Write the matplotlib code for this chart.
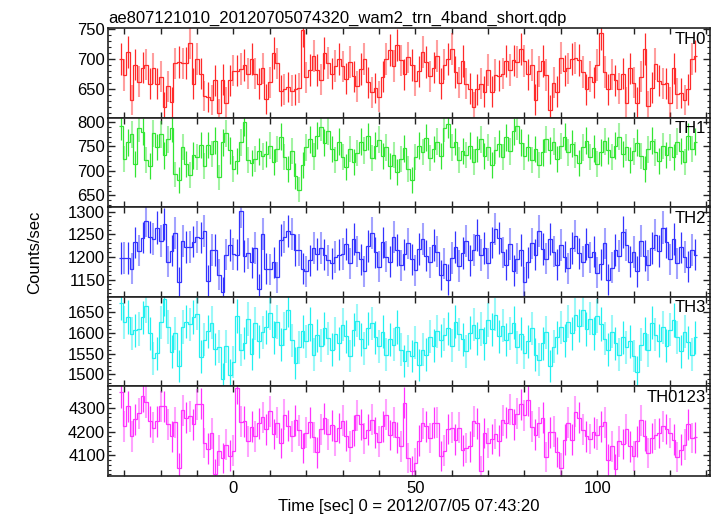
import numpy as np
import matplotlib
matplotlib.use("Agg")
import matplotlib.pyplot as plt
from matplotlib.ticker import MultipleLocator

plt.rcParams['font.family'] = ['Liberation Sans', 'DejaVu Sans']

# --- data: 1 s bins ---
t_start = -31

th0 = [700, 674, 712, 632, 691, 663, 686, 691, 659, 685,
       659, 671, 621, 655, 629, 693, 695, 693, 694, 727,
       659, 701, 676, 639, 637, 632, 665, 610, 666, 628,
       665, 681, 681, 684, 690, 676, 701, 676, 659, 685,
       634, 662, 711, 693, 648, 650, 654, 648, 650, 652,
       748, 670, 682, 706, 682, 666, 710, 694, 676, 689,
       701, 688, 668, 695, 672, 655, 684, 700, 662, 645,
       652, 638, 671, 700, 716, 689, 724, 698, 675, 703,
       690, 664, 680, 712, 695, 672, 686, 705, 660, 691,
       700, 717, 679, 661, 697, 659, 651, 621, 650, 659,
       646, 682, 646, 674, 673, 676, 697, 682, 698, 695,
       717, 697, 675, 690, 633, 680, 697, 674, 616, 661,
       646, 702, 681, 685, 700, 702, 699, 679, 650, 671,
       662, 690, 743, 679, 650, 675, 665, 651, 676, 628,
       685, 661, 628, 671, 717, 622, 653, 692, 664, 659,
       660, 628, 685, 643, 644, 632, 650, 701, 705]

th1 = [792, 725, 759, 775, 715, 787, 780, 722, 711, 777,
       749, 775, 732, 765, 787, 693, 682, 749, 715, 692,
       732, 729, 753, 711, 753, 735, 762, 687, 759, 777,
       742, 705, 720, 759, 799, 722, 717, 724, 740, 730,
       735, 752, 718, 745, 770, 728, 704, 741, 690, 662,
       712, 748, 765, 730, 772, 790, 758, 781, 745, 722,
       760, 728, 708, 745, 718, 737, 760, 742, 771, 726,
       752, 764, 731, 748, 711, 733, 698, 725, 746, 705,
       681, 728, 752, 739, 768, 726, 745, 760, 731, 787,
       795, 748, 760, 722, 741, 733, 752, 718, 745, 765,
       731, 748, 712, 742, 756, 728, 769, 740, 781, 792,
       758, 730, 748, 722, 745, 712, 738, 765, 742, 760,
       725, 751, 770, 738, 756, 733, 717, 748, 762, 729,
       746, 715, 738, 761, 742, 728, 752, 770, 735, 748,
       722, 740, 758, 731, 705, 744, 762, 738, 720, 751,
       733, 748, 729, 760, 741, 718, 771, 745, 760]

th2 = [1198, 1198, 1198, 1174, 1232, 1214, 1243, 1279, 1245, 1240,
       1265, 1236, 1273, 1190, 1214, 1252, 1145, 1236, 1222, 1222,
       1234, 1245, 1243, 1258, 1148, 1216, 1215, 1161, 1123, 1205,
       1226, 1207, 1205, 1301, 1202, 1208, 1188, 1220, 1129, 1250,
       1174, 1173, 1188, 1155, 1237, 1245, 1257, 1250, 1215, 1215,
       1174, 1168, 1193, 1220, 1207, 1220, 1205, 1193, 1186, 1200,
       1205, 1207, 1228, 1186, 1240, 1212, 1195, 1168, 1225, 1252,
       1210, 1178, 1232, 1201, 1190, 1245, 1216, 1182, 1206, 1230,
       1195, 1171, 1218, 1240, 1203, 1188, 1226, 1212, 1160, 1185,
       1150, 1198, 1222, 1180, 1209, 1236, 1193, 1215, 1248, 1204,
       1220, 1186, 1232, 1262, 1241, 1210, 1183, 1228, 1170, 1196,
       1215, 1145, 1188, 1230, 1205, 1258, 1218, 1196, 1240, 1212,
       1183, 1226, 1201, 1175, 1220, 1247, 1208, 1190, 1228, 1199,
       1212, 1165, 1184, 1230, 1150, 1176, 1215, 1202, 1255, 1226,
       1190, 1211, 1168, 1236, 1203, 1182, 1220, 1248, 1213, 1265,
       1232, 1195, 1240, 1186, 1221, 1200, 1178, 1216, 1205]

th3 = [1672, 1626, 1639, 1599, 1607, 1610, 1638, 1665, 1600, 1539,
       1551, 1626, 1682, 1615, 1555, 1600, 1520, 1615, 1628, 1621,
       1639, 1647, 1543, 1584, 1605, 1625, 1562, 1567, 1490, 1568,
       1498, 1530, 1641, 1559, 1576, 1634, 1550, 1624, 1580, 1602,
       1615, 1648, 1590, 1627, 1572, 1610, 1655, 1583, 1528, 1566,
       1604, 1580, 1622, 1548, 1595, 1570, 1612, 1588, 1560, 1598,
       1575, 1620, 1592, 1545, 1608, 1630, 1585, 1563, 1612, 1624,
       1590, 1568, 1603, 1548, 1585, 1572, 1615, 1560, 1532, 1557,
       1545, 1578, 1523, 1560, 1548, 1591, 1570, 1605, 1583, 1596,
       1612, 1570, 1628, 1597, 1585, 1556, 1601, 1620, 1588, 1610,
       1575, 1632, 1609, 1645, 1592, 1618, 1584, 1600, 1625, 1566,
       1598, 1553, 1580, 1612, 1548, 1536, 1575, 1602, 1520, 1567,
       1590, 1614, 1582, 1628, 1600, 1645, 1618, 1655, 1610, 1635,
       1598, 1642, 1622, 1586, 1560, 1603, 1575, 1548, 1590, 1566,
       1580, 1545, 1505, 1572, 1600, 1558, 1625, 1596, 1582, 1614,
       1570, 1608, 1632, 1590, 1556, 1603, 1578, 1548, 1590]

th0123 = [4366, 4222, 4307, 4180, 4251, 4276, 4349, 4324, 4244, 4216,
          4244, 4307, 4307, 4230, 4180, 4239, 4047, 4290, 4258, 4265,
          4230, 4314, 4318, 4152, 4128, 4192, 4023, 4120, 4089, 4145,
          4099, 4120, 4384, 4241, 4244, 4159, 4220, 4180, 4235, 4260,
          4210, 4285, 4190, 4238, 4152, 4270, 4225, 4180, 4248, 4205,
          4130, 4196, 4240, 4175, 4112, 4210, 4255, 4188, 4226, 4160,
          4215, 4245, 4182, 4136, 4205, 4268, 4230, 4172, 4208, 4250,
          4195, 4158, 4222, 4270, 4186, 4240, 4175, 4138, 4321, 4089,
          4033, 4068, 4162, 4234, 4223, 4173, 4237, 4237, 4096, 4120,
          4211, 4216, 4166, 4216, 4121, 4131, 4138, 4244, 4234, 4033,
          4194, 4152, 4169, 4190, 4162, 4248, 4237, 4293, 4230, 4275,
          4314, 4268, 4332, 4220, 4187, 4237, 4258, 4093, 4197, 4199,
          4113, 4047, 4166, 4237, 4166, 4283, 4258, 4208, 4180, 4169,
          4197, 4187, 4223, 4240, 4082, 4138, 4043, 4159, 4148, 4211,
          4138, 4096, 4159, 4248, 4183, 4110, 4173, 4187, 4194, 4223,
          4211, 4194, 4166, 4093, 4124, 4145, 4230, 4173, 4175]

labels = ['TH0', 'TH1', 'TH2', 'TH3', 'TH0123']
colors = ['#ff2a2a', '#33e633', '#3333ff', '#22f0f0', '#ff33ff']
ylims = [(603, 752), (626, 809), (1112, 1310), (1471, 1688), (4013, 4390)]
majors = [50, 50, 50, 50, 100]
minors = [10, 10, 10, 10, 20]
series = [th0, th1, th2, th3, th0123]

# --- figure ---
fig = plt.figure(figsize=(7.17, 5.16), dpi=100)
left, right, top, bottom = 108 / 717, 710 / 717, 1 - 28 / 516, 1 - 476 / 516
h = (top - bottom) / 5
fs = 12

for i, (vals, lab, col) in enumerate(zip(series, labels, colors)):
    ax = fig.add_axes([left, top - (i + 1) * h, right - left, h])
    vals = np.array(vals, dtype=float)
    t = t_start + np.arange(len(vals))
    err = np.sqrt(vals)
    edges = np.append(t - 0.5, t[-1] + 0.5)

    # alternate error bar shading like the qdp render
    even = np.arange(len(vals)) % 2 == 0
    ax.errorbar(t[even], vals[even], yerr=err[even], fmt='none',
                ecolor=col, elinewidth=0.9, capsize=0)
    ax.errorbar(t[~even], vals[~even], yerr=err[~even], fmt='none',
                ecolor=col, elinewidth=1.5, capsize=0, alpha=0.45)
    ax.stairs(vals, edges, color=col, linewidth=0.9, baseline=None)

    ax.set_xlim(-34.5, 131)
    ax.set_ylim(*ylims[i])
    ax.xaxis.set_major_locator(MultipleLocator(50))
    ax.xaxis.set_minor_locator(MultipleLocator(10))
    ax.yaxis.set_major_locator(MultipleLocator(majors[i]))
    ax.yaxis.set_minor_locator(MultipleLocator(minors[i]))
    ax.tick_params(which='both', direction='in', top=True, right=True,
                   labelsize=fs, color='#222222')
    ax.tick_params(axis='y', which='major', length=5, width=1, pad=2)
    ax.tick_params(axis='y', which='minor', length=2.5, width=0.8)
    ax.tick_params(axis='x', which='both', length=4, width=1)
    for sp in ax.spines.values():
        sp.set_linewidth(1.2)
        sp.set_color('#222222')
    if i < 4:
        ax.tick_params(axis='x', labelbottom=False)
    ax.text(0.993, 0.96, lab, transform=ax.transAxes, ha='right', va='top',
            fontsize=fs)
    if i == 0:
        ax.set_title('ae807121010_20120705074320_wam2_trn_4band_short.qdp',
                     loc='left', fontsize=fs, pad=4)
    if i == 4:
        ax.set_xlabel('Time [sec] 0 = 2012/07/05 07:43:20', fontsize=fs,
                      labelpad=2)

fig.text(35 / 717, 1 - 252 / 516, 'Counts/sec', rotation=90, ha='center',
         va='center', fontsize=fs)

fig.savefig('out.png', dpi=100)
